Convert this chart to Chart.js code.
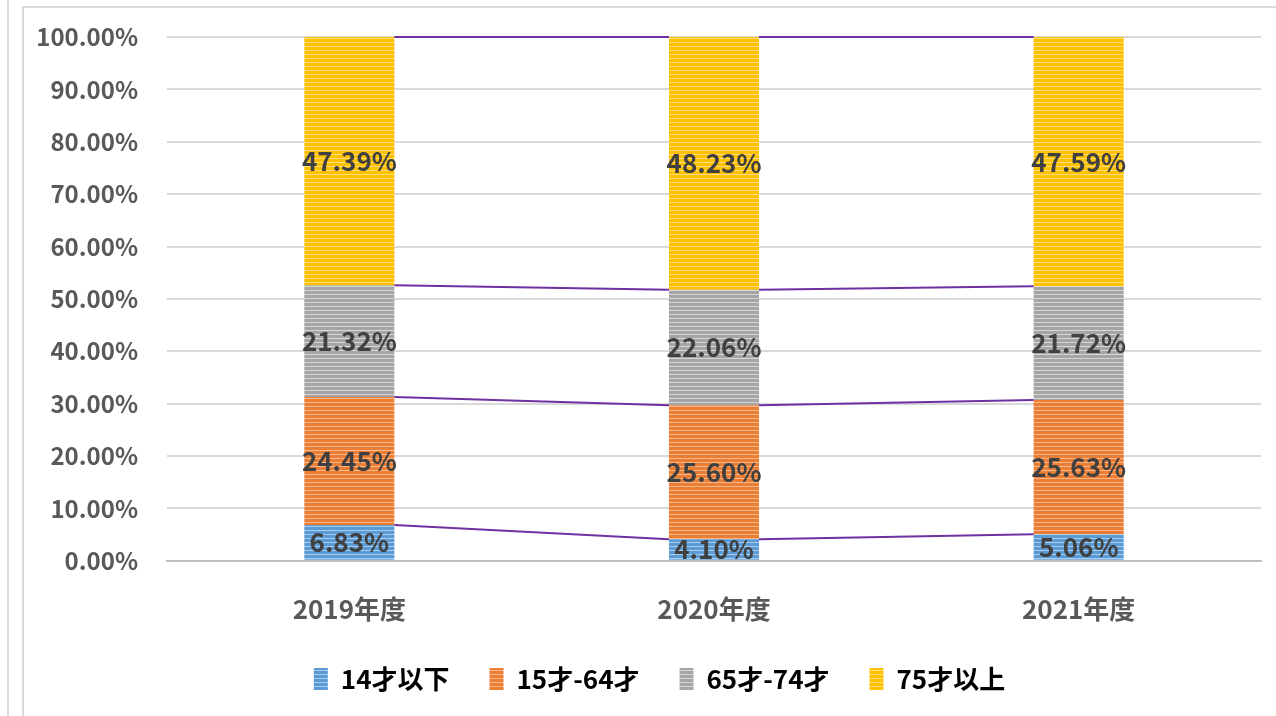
<!DOCTYPE html>
<html>
<head>
<meta charset="utf-8">
<script src="https://cdn.jsdelivr.net/npm/chart.js@4"></script>
<style>
  html, body { margin: 0; padding: 0; background: #fff; }
  #wrap { position: relative; width: 1276px; height: 716px; overflow: hidden; }
  .line-left { position: absolute; left: 7px; top: 0; width: 2px; height: 716px; background: #d9d9d9; }
  .frame { position: absolute; left: 22px; top: 6px; right: -4px; bottom: -4px;
           border-left: 2px solid #d9d9d9; border-top: 2px solid #d9d9d9; }
  canvas { position: absolute; left: 0; top: 0; }
</style>
</head>
<body>
<div id="wrap">
  <div class="line-left"></div>
  <div class="frame"></div>
  <canvas id="chart" width="1276" height="716"></canvas>
</div>
<script>
const years = ['2019年度', '2020年度', '2021年度'];
const seriesNames = ['14才以下', '15才-64才', '65才-74才', '75才以上'];
const under14 = [6.83, 4.10, 5.06];
const age15to64 = [24.45, 25.60, 25.63];
const age65to74 = [21.32, 22.06, 21.72];
const over75 = [47.39, 48.23, 47.59];

const FONT = "'Noto Sans CJK JP', 'Noto Sans', sans-serif";

// striped fill like the office pattern
function stripes(base, light) {
  const c = document.createElement('canvas');
  c.width = 4; c.height = 4;
  const g = c.getContext('2d');
  g.fillStyle = base; g.fillRect(0, 0, 4, 4);
  g.fillStyle = light; g.fillRect(0, 2, 4, 1);
  return c.getContext('2d').createPattern(c, 'repeat');
}

const colors = [
  stripes('#5b9bd5', '#a9cbec'),
  stripes('#ed7d31', '#f6b892'),
  stripes('#a5a5a5', '#d6d6d6'),
  stripes('#ffc000', '#ffe07a')
];

// Excel style series lines between stacked bars
const seriesLines = {
  id: 'seriesLines',
  afterDatasetsDraw(chart) {
    const ctx = chart.ctx;
    ctx.save();
    ctx.strokeStyle = '#7030a0';
    ctx.lineWidth = 2;
    chart.data.datasets.forEach((ds, i) => {
      const bars = chart.getDatasetMeta(i).data;
      for (let j = 0; j < bars.length - 1; j++) {
        const a = bars[j], b = bars[j + 1];
        ctx.beginPath();
        ctx.moveTo(a.x + a.width / 2, a.y);
        ctx.lineTo(b.x - b.width / 2, b.y);
        ctx.stroke();
      }
    });
    ctx.restore();
  }
};

const barLabels = {
  id: 'barLabels',
  afterDatasetsDraw(chart) {
    const ctx = chart.ctx;
    ctx.save();
    ctx.font = 'bold 26px ' + FONT;
    ctx.fillStyle = '#404040';
    ctx.textAlign = 'center';
    ctx.textBaseline = 'middle';
    chart.data.datasets.forEach((ds, i) => {
      chart.getDatasetMeta(i).data.forEach((bar, j) => {
        const y = (bar.y + bar.base) / 2;
        ctx.fillText(ds.data[j].toFixed(2) + '%', bar.x, y);
      });
    });
    ctx.restore();
  }
};

// legend sits a bit right of centre in the original
const legendShift = {
  id: 'legendShift',
  afterLayout(chart) {
    chart.legend.left += 18;
    chart.legend.right += 18;
  }
};

const seriesData = [under14, age15to64, age65to74, over75];

new Chart(document.getElementById('chart'), {
  type: 'bar',
  data: {
    labels: years,
    datasets: seriesNames.map((name, i) => ({
      label: name,
      data: seriesData[i],
      backgroundColor: colors[i],
      borderWidth: 0,
      categoryPercentage: 1,
      barPercentage: 0.247
    }))
  },
  options: {
    responsive: false,
    animation: false,
    layout: { padding: { left: 22, right: 15, top: 37, bottom: 14 } },
    scales: {
      x: {
        stacked: true,
        grid: { display: false },
        border: { display: true, color: '#bfbfbf', width: 2 },
        afterFit(scale) { scale.height -= 24; },
        ticks: { color: '#595959', font: { family: FONT, size: 26, weight: 'bold' }, padding: 25 }
      },
      y: {
        stacked: true,
        min: 0,
        max: 100,
        afterFit(scale) {
          scale.width = 145;
          scale.paddingTop = 0;
          scale.paddingBottom = 0;
        },
        grid: {
          color: ctx => ctx.tick && ctx.tick.value === 0 ? '#bfbfbf' : '#d9d9d9',
          lineWidth: 2,
          drawTicks: false
        },
        border: { display: false },
        ticks: {
          stepSize: 10,
          padding: 29,
          color: '#595959',
          font: { family: FONT, size: 24, weight: 'bold' },
          callback: v => v.toFixed(2) + '%'
        }
      }
    },
    plugins: {
      legend: {
        position: 'bottom',
        labels: {
          boxWidth: 14,
          boxHeight: 22,
          padding: 40,
          color: '#595959',
          font: { family: FONT, size: 26, weight: 'bold' },
          generateLabels(chart) {
            return chart.data.datasets.map((ds, i) => ({
              text: ds.label,
              fillStyle: colors[i],
              strokeStyle: 'transparent',
              lineWidth: 0,
              datasetIndex: i
            }));
          }
        }
      },
      tooltip: { enabled: false }
    }
  },
  plugins: [seriesLines, barLabels, legendShift]
});
</script>
</body>
</html>
